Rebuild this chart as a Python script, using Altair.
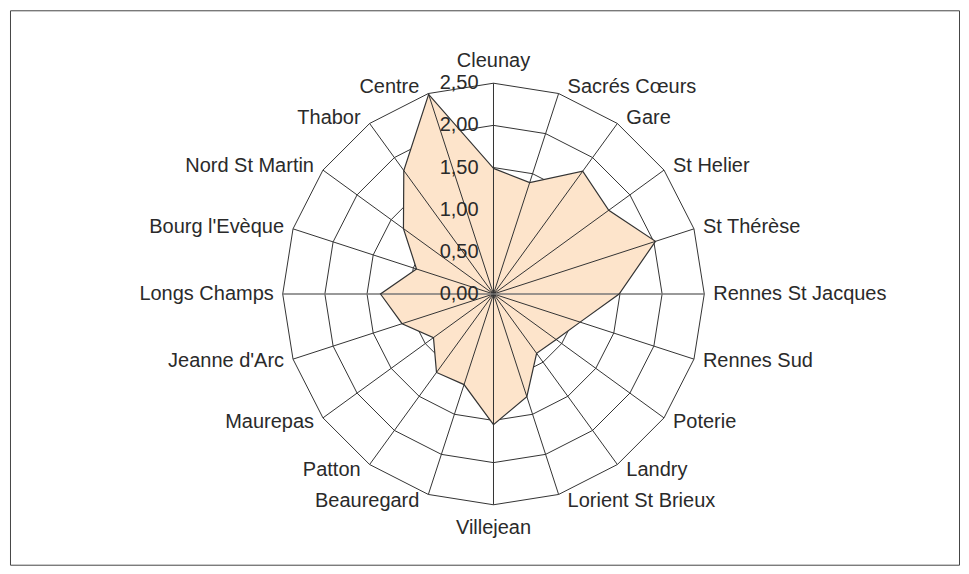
import math
import altair as alt
import pandas as pd

# ---------------- data ----------------
categories = ["Cleunay", "Sacrés Cœurs", "Gare", "St Helier", "St Thérèse",
              "Rennes St Jacques", "Rennes Sud", "Poterie", "Landry",
              "Lorient St Brieux", "Villejean", "Beauregard", "Patton",
              "Maurepas", "Jeanne d'Arc", "Longs Champs", "Bourg l'Evèque",
              "Nord St Martin", "Thabor", "Centre"]
values = [1.49, 1.39, 1.80, 1.69, 2.02, 1.49, 1.08, 0.92, 0.87, 1.28,
          1.55, 1.13, 1.15, 0.88, 1.14, 1.34, 0.96, 1.32, 1.81, 2.49]
ring_levels = [0.5, 1.0, 1.5, 2.0, 2.5]
tick_values = [0.0, 0.5, 1.0, 1.5, 2.0, 2.5]
tick_labels = ["0,00", "0,50", "1,00", "1,50", "2,00", "2,50"]

# ---------------- layout ----------------
W, H = 950, 555          # plot (= frame) size in px
CX, CY = 484, 284        # centre of radar inside the plot, px
PX = 84.4                # px per value unit
RMAX = 2.5
FILL = "#FDE4CB"
LINE = "#333333"
TEXT = "#2a2a2a"
FONT = "Liberation Sans"
FS = 20

n = len(categories)
angles = [2 * math.pi * i / n for i in range(n)]

xs = alt.Scale(domain=[-CX / PX, (W - CX) / PX], nice=False, zero=False)
ys = alt.Scale(domain=[-(H - CY) / PX, CY / PX], nice=False, zero=False)
X = lambda f: alt.X(f, type="quantitative", scale=xs, axis=None)
Y = lambda f: alt.Y(f, type="quantitative", scale=ys, axis=None)

# polygon
poly = pd.DataFrame({
    "cat": categories,
    "v": values,
    "i": list(range(n)),
})
poly["x"] = [v * math.sin(a) for v, a in zip(values, angles)]
poly["y"] = [v * math.cos(a) for v, a in zip(values, angles)]

# rings
ring_rows = []
for lv in ring_levels:
    for i, a in enumerate(angles):
        ring_rows.append({"lv": lv, "i": i, "x": lv * math.sin(a), "y": lv * math.cos(a)})
rings = pd.DataFrame(ring_rows)

# spokes
spokes = pd.DataFrame({
    "cat": categories,
    "x0": [0.0] * n, "y0": [0.0] * n,
    "x1": [RMAX * math.sin(a) for a in angles],
    "y1": [RMAX * math.cos(a) for a in angles],
    "horiz": [abs(math.cos(a)) < 1e-6 for a in angles],
})

# category labels
lab = pd.DataFrame({"cat": categories})
s = [math.sin(a) for a in angles]
c = [math.cos(a) for a in angles]
side = []
lx, ly = [], []
for si, ci in zip(s, c):
    if si > 0.1:
        side.append("right")
        lx.append(RMAX * si + 9 / PX)
        ly.append(RMAX * ci + 7 * ci / PX)
    elif si < -0.1:
        side.append("left")
        lx.append(RMAX * si - 9 / PX)
        ly.append(RMAX * ci + 7 * ci / PX)
    elif ci > 0:
        side.append("top")
        lx.append(0.0)
        ly.append(RMAX + 12 / PX)
    else:
        side.append("bottom")
        lx.append(0.0)
        ly.append(-RMAX - 13 / PX)
lab["side"] = side
lab["x"] = lx
lab["y"] = ly

ticks = pd.DataFrame({"v": tick_values, "t": tick_labels, "x": [0.0] * len(tick_values)})

# ---------------- layers ----------------
ring_layer = alt.Chart(rings).mark_line(
    stroke=LINE, strokeWidth=1, interpolate="linear-closed"
).encode(x=X("x"), y=Y("y"), detail="lv:N", order="i:Q")

fill_layer = alt.Chart(poly).mark_line(
    filled=True, fill=FILL, stroke=None, strokeWidth=0, interpolate="linear-closed"
).encode(x=X("x"), y=Y("y"), order="i:Q")

spoke_layer = alt.Chart(spokes).transform_filter("!datum.horiz").mark_rule(
    stroke=LINE, strokeWidth=1
).encode(x=X("x0"), y=Y("y0"), x2="x1:Q", y2="y1:Q")

hspoke_layer = alt.Chart(spokes).transform_filter("datum.horiz").mark_rule(
    stroke="#777777", strokeWidth=1.6
).encode(x=X("x0"), y=Y("y0"), x2="x1:Q", y2="y1:Q")

outline_layer = alt.Chart(poly).mark_line(
    stroke=LINE, strokeWidth=1.2, interpolate="linear-closed"
).encode(x=X("x"), y=Y("y"), order="i:Q")

tick_layer = alt.Chart(ticks).mark_text(
    align="right", baseline="middle", dx=-15, font=FONT, fontSize=FS, color=TEXT
).encode(x=X("x"), y=Y("v"), text="t:N")

def lab_layer(sd, align, baseline):
    return alt.Chart(lab).transform_filter(f"datum.side == '{sd}'").mark_text(
        align=align, baseline=baseline, font=FONT, fontSize=FS, color=TEXT
    ).encode(x=X("x"), y=Y("y"), text="cat:N")

chart = alt.layer(
    ring_layer, fill_layer, spoke_layer, hspoke_layer, outline_layer, tick_layer,
    lab_layer("right", "left", "middle"),
    lab_layer("left", "right", "middle"),
    lab_layer("top", "center", "bottom"),
    lab_layer("bottom", "center", "top"),
).properties(
    width=W, height=H, padding=2, background="white"
).configure_view(stroke="#444444", strokeWidth=1)

chart.save("out.html", embed_options={"renderer": "svg", "actions": False})
